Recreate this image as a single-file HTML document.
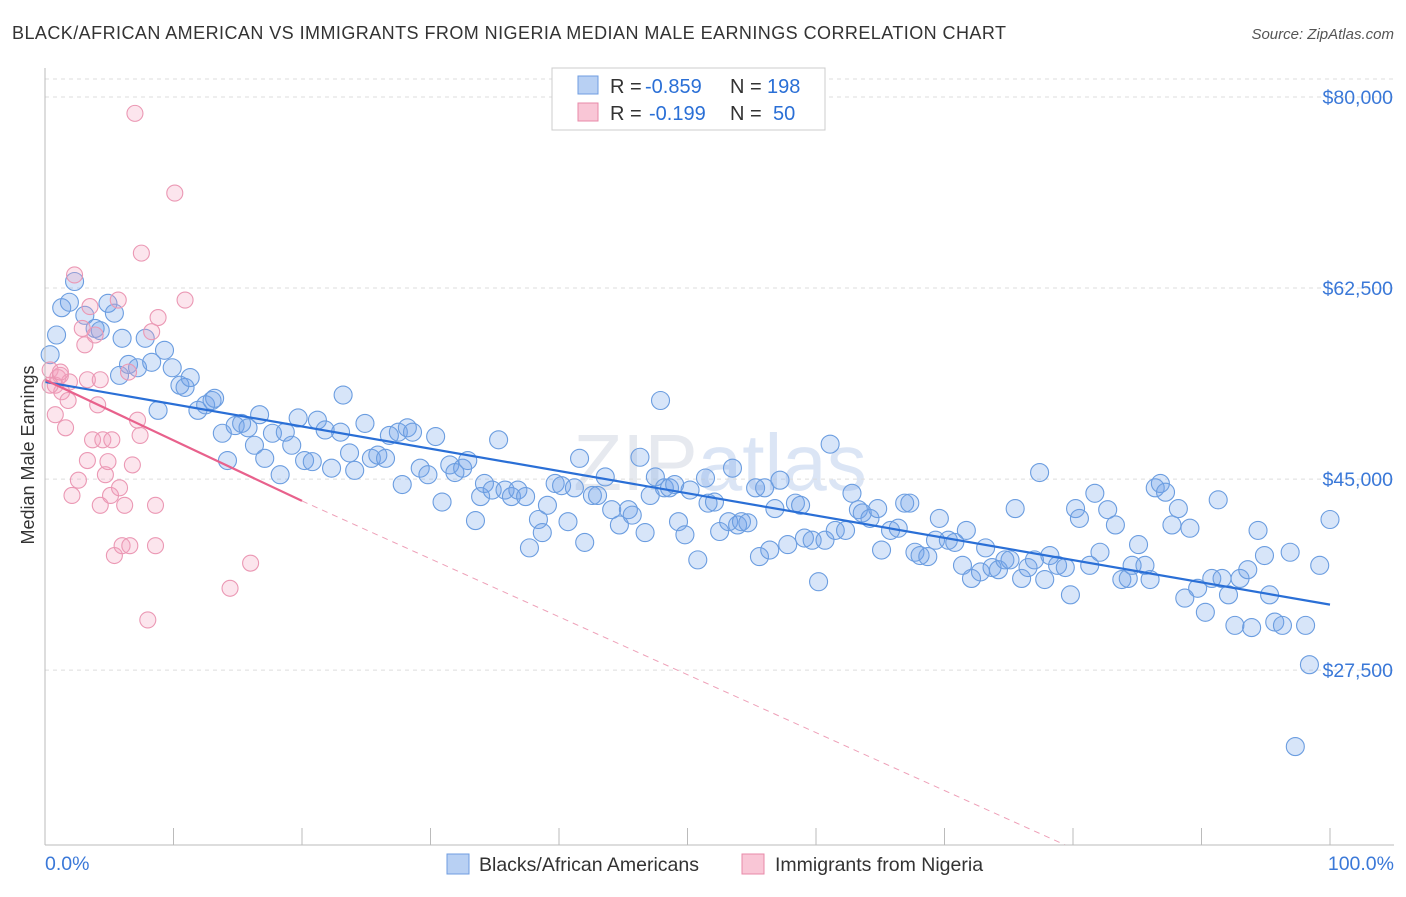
<!DOCTYPE html>
<html><head><meta charset="utf-8"><style>
body{margin:0;background:#fff;font-family:"Liberation Sans",sans-serif;}
svg text{font-family:"Liberation Sans",sans-serif;}
</style></head><body>
<svg id="c" width="1406" height="892" xmlns="http://www.w3.org/2000/svg">
<text x="12" y="39" font-size="18" fill="#333" textLength="994" lengthAdjust="spacing">BLACK/AFRICAN AMERICAN VS IMMIGRANTS FROM NIGERIA MEDIAN MALE EARNINGS CORRELATION CHART</text>
<text x="1394" y="39" font-size="15" fill="#555" text-anchor="end" font-style="italic">Source: ZipAtlas.com</text>
<text x="720" y="490" font-size="80" fill="#e6e9ef" text-anchor="middle" font-family="Liberation Serif">ZIP<tspan fill="#dbe5f5" font-family="Liberation Sans">atlas</tspan></text>
<g id="grid"></g><g id="marks"></g><g id="axes"></g>
<g font-size="20">
<rect x="552" y="68" width="273" height="62" fill="#fff" stroke="#ccc"/>
<rect x="578" y="76" width="20" height="18" fill="#b8d0f3" stroke="#6f9de0"/>
<text x="610" y="93" fill="#333">R =</text><text x="645" y="93" fill="#2a6fd6">-0.859</text>
<text x="730" y="93" fill="#333">N =</text><text x="767" y="93" fill="#2a6fd6">198</text>
<rect x="578" y="103" width="20" height="18" fill="#f9c6d6" stroke="#e88aa8"/>
<text x="610" y="120" fill="#333">R =</text><text x="649" y="120" fill="#2a6fd6">-0.199</text>
<text x="730" y="120" fill="#333">N =</text><text x="773" y="120" fill="#2a6fd6">50</text>
</g>
<g>
<rect x="447" y="854" width="22" height="20" fill="#b8d0f3" stroke="#6f9de0"/>
<text x="479" y="871" font-size="19.5" fill="#333">Blacks/African Americans</text>
<rect x="742" y="854" width="22" height="20" fill="#f9c6d6" stroke="#e88aa8"/>
<text x="775" y="871" font-size="19.5" fill="#333">Immigrants from Nigeria</text>
</g>
<text transform="translate(34,455) rotate(-90)" font-size="18" fill="#333" text-anchor="middle">Median Male Earnings</text>
</svg>
<script>
const yTicks=[27500,45000,62500,80000];
const yTickLabels=["$27,500","$45,000","$62,500","$80,000"];
const xTickLabels=["0.0%","100.0%"];
const blueX=[0.4,0.9,1.3,1.9,2.3,3.1,3.9,4.3,4.9,5.4,6.0,5.8,6.5,7.2,7.8,8.3,8.8,9.3,9.9,10.5,10.9,11.3,11.9,12.5,13.0,13.2,13.8,14.2,14.8,15.3,15.8,16.3,16.7,17.1,17.7,18.3,18.7,19.2,19.7,20.2,20.8,21.2,21.8,22.3,23.0,23.2,23.7,24.1,24.9,25.4,25.9,26.5,26.8,27.5,27.8,28.2,28.6,29.2,29.8,30.4,30.9,31.5,31.9,32.5,32.9,33.5,33.9,34.2,34.8,35.3,35.8,36.3,36.8,37.4,37.7,38.4,38.7,39.1,39.7,40.2,40.7,41.2,41.6,42.0,42.6,43.0,43.6,44.1,44.7,45.4,45.7,46.3,46.7,47.1,47.5,47.9,48.2,48.6,49.0,49.3,49.8,50.2,50.8,51.4,51.6,52.1,52.5,53.2,53.5,53.9,54.2,54.7,55.3,55.6,56.0,56.4,56.8,57.2,57.8,58.4,58.8,59.1,59.7,60.2,60.7,61.1,61.5,62.3,62.8,63.3,63.6,64.2,64.8,65.1,65.8,66.4,66.9,67.3,67.7,68.1,68.7,69.3,69.6,70.3,70.8,71.4,71.7,72.1,72.8,73.2,73.7,74.2,74.7,75.1,75.5,76.0,76.5,77.0,77.4,77.8,78.2,78.8,79.4,79.8,80.2,80.5,81.3,81.7,82.1,82.7,83.3,83.8,84.3,84.6,85.1,85.6,86.0,86.4,86.8,87.2,87.7,88.2,88.7,89.1,89.7,90.3,90.8,91.3,91.6,92.1,92.6,93.0,93.6,93.9,94.4,94.9,95.3,95.7,96.3,96.9,97.3,98.1,98.4,99.2,100.0];
const blueY=[56.4,58.2,60.7,61.2,63.1,60.0,58.8,58.6,61.1,60.2,57.9,54.5,55.5,55.2,57.9,55.7,51.3,56.8,55.2,53.6,53.4,54.3,51.3,51.8,52.2,52.4,49.2,46.7,49.9,50.1,49.7,48.1,50.9,46.9,49.2,45.4,49.3,48.1,50.6,46.7,46.6,50.4,49.5,46.0,49.3,52.7,47.4,45.8,50.1,46.9,47.2,46.9,49.0,49.3,44.5,49.7,49.3,46.0,45.4,48.9,42.9,46.3,45.6,46.0,46.7,41.2,43.4,44.6,44.0,48.6,44.0,43.4,44.0,43.4,38.7,41.3,40.1,42.6,44.6,44.4,41.1,44.2,46.9,39.2,43.5,43.5,45.2,42.2,40.8,42.2,41.7,47.0,40.1,43.5,45.2,52.2,44.2,44.2,44.5,41.1,39.9,44.0,37.6,45.1,42.8,42.9,40.2,41.1,46.0,40.8,41.1,41.0,44.2,37.9,44.2,38.5,42.3,44.9,39.0,42.8,42.6,39.6,39.4,35.6,39.4,48.2,40.3,40.3,43.7,42.2,41.9,41.4,42.3,38.5,40.3,40.5,42.8,42.8,38.3,38.0,37.9,39.4,41.4,39.4,39.2,37.1,40.3,35.9,36.5,38.7,36.9,36.7,37.6,37.6,42.3,35.9,36.9,37.6,45.6,35.8,38.0,37.1,36.9,34.4,42.3,41.4,37.1,43.7,38.3,42.2,40.8,35.8,35.9,37.1,39.0,37.1,35.8,44.2,44.6,43.8,40.8,42.3,34.1,40.5,35.0,32.8,35.9,43.1,35.9,34.4,31.6,35.9,36.7,31.4,40.3,38.0,34.4,31.9,31.6,38.3,20.5,31.6,28.0,37.1,41.3];
const pinkX=[0.4,0.8,0.8,1.0,1.2,1.3,1.6,1.8,1.9,2.1,2.3,2.6,2.9,3.1,3.3,3.3,3.5,3.7,3.9,4.1,4.3,4.3,4.5,4.7,4.9,5.1,5.2,5.4,5.7,5.8,6.0,6.2,6.5,6.6,6.8,7.0,7.2,7.4,7.5,8.0,8.3,8.6,8.6,8.8,10.1,10.9,14.4,16.0,0.4,1.2];
const pinkY=[55.0,53.6,50.9,54.3,54.5,53.0,49.7,52.2,53.9,43.5,63.7,44.9,58.8,57.3,54.1,46.7,60.8,48.6,58.2,51.8,42.6,54.1,48.6,45.4,46.6,43.5,48.6,38.0,61.4,44.2,38.9,42.6,54.8,38.9,46.3,78.5,50.4,49.0,65.7,32.1,58.5,38.9,42.6,59.8,71.2,61.4,35.0,37.3,53.6,54.8];
const blueTrend=[53.9,33.5];
const pinkTrend=[54.1,-0.555];
const NS="http://www.w3.org/2000/svg";
const X=p=>45+p*12.85;
const Y=k=>97+(80-k)/0.0916;
const Yv=v=>Y(v/1000);
function mk(t,a,p){const e=document.createElementNS(NS,t);for(const k in a)e.setAttribute(k,a[k]);document.getElementById(p).appendChild(e);return e;}
let g=mk('line',{x1:45,x2:1394,y1:79,y2:79,stroke:'#ddd','stroke-dasharray':'4,4'},'grid');


yTicks.forEach((v,i)=>{
 const l=mk('line',{x1:45,x2:1394,y1:Yv(v),y2:Yv(v),stroke:'#ddd','stroke-dasharray':'4,4'},'grid');
 
 
 const t=mk('text',{x:1393,y:Yv(v)+7,'font-size':19.5,fill:'#3a78d8','text-anchor':'end'},'axes');
 t.textContent=yTickLabels[i];
 
 
});
let ax=mk('line',{x1:45,x2:1394,y1:845,y2:845,stroke:'#bbb'},'axes');


let ay=mk('line',{x1:45,x2:45,y1:68,y2:845,stroke:'#bbb'},'axes');


for(let i=0;i<=10;i++){const tk=mk('line',{x1:X(i*10),x2:X(i*10),y1:828,y2:845,stroke:'#bbb'},'axes');
 
 }
[[0,'start',45],[1,'end',1394]].forEach(([i,a,x])=>{const t=mk('text',{x:x,y:870,'font-size':19.5,fill:'#3a78d8','text-anchor':a},'axes');t.textContent=xTickLabels[i];
 
 });
blueX.forEach((x,i)=>{const c=mk('circle',{cx:X(x),cy:Y(blueY[i]),r:9,fill:'rgba(110,160,235,0.28)',stroke:'#6b9de0','stroke-width':1.1},'marks');
 
 });
pinkX.forEach((x,i)=>{const c=mk('circle',{cx:X(x),cy:Y(pinkY[i]),r:8,fill:'rgba(245,160,190,0.28)',stroke:'#eb98b4','stroke-width':1.1},'marks');
 
 });
let bt=mk('line',{x1:X(0),y1:Y(blueTrend[0]),x2:X(100),y2:Y(blueTrend[1]),stroke:'#2a6fd6','stroke-width':2.2},'marks');


const pEnd=79.4;
let ps=mk('line',{x1:X(0),y1:Y(pinkTrend[0]),x2:X(20),y2:Y(pinkTrend[0]+20*pinkTrend[1]),stroke:'#e8618c','stroke-width':2.2},'marks');


let pd=mk('line',{x1:X(20),y1:Y(pinkTrend[0]+20*pinkTrend[1]),x2:X(pEnd),y2:Math.min(845,Y(pinkTrend[0]+pEnd*pinkTrend[1])),stroke:'#eea0b8','stroke-width':1,'stroke-dasharray':'6,5'},'marks');


</script>
</body></html>
